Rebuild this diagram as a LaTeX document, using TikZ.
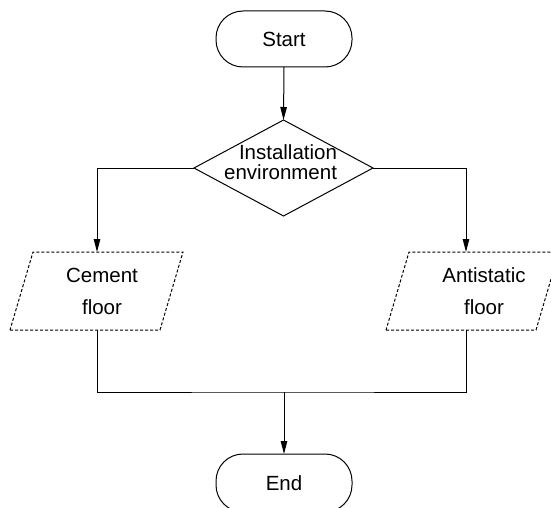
\documentclass[tikz,border=0pt]{standalone}
\usepackage{fontspec}
\setmainfont{Liberation Sans}
\usetikzlibrary{shapes.geometric,arrows.meta,calc}
\begin{document}
\begin{tikzpicture}[x=1pt,y=1pt,
  line width=1pt,
  every node/.style={inner sep=0pt, outer sep=0pt},
  txt/.style={font=\fontsize{20.5}{32}\selectfont, align=center},
  dectxt/.style={font=\fontsize{20.5}{20}\selectfont, align=right},
  term/.style={draw, rounded corners=27pt, minimum width=136pt, minimum height=56pt, font=\fontsize{20.5}{24}\selectfont},
  decision/.style={draw, diamond, minimum width=179pt, minimum height=96pt},
  io/.style={draw, dash pattern=on 3pt off 2pt},
  arr/.style={-{Triangle[length=13pt,width=6.5pt]}}
]
\useasboundingbox (0,0) rectangle (551,-508);
\clip (0,0) rectangle (551,-508);

% terminals
\node[term] (start) at (284,-39) {Start};
\node[term, minimum height=58pt] (end) at (284,-483) {End};

% decision
\node[decision] (dec) at (283.5,-168) {};
\node[dectxt] (dectext) at (280.6,-162.6) {Installation\\environment};

% parallelogram corners
\coordinate (c1) at (10,-330);
\coordinate (c2) at (160,-330);
\coordinate (c3) at (183,-252);
\coordinate (c4) at (33,-252);
\coordinate (a1) at (386,-330);
\coordinate (a2) at (536,-330);
\coordinate (a3) at (559,-252);
\coordinate (a4) at (409,-252);
\draw[io] (c1) -- (c2) -- (c3) -- (c4) -- cycle;
\draw[io] (a1) -- (a2) -- (a3) -- (a4) -- cycle;
\node[txt] (cem) at (102,-291.5) {Cement\\floor};
\node[txt] (ant) at (484,-291.5) {Antistatic\\floor};

\coordinate (cemtop) at (97,-252);
\coordinate (cembot) at (97,-330);
\coordinate (anttop) at (466,-252);
\coordinate (antbot) at (466,-330);
\coordinate (join) at (284,-392);

% connectors
\draw[arr] (start.south) -- (dec.north);
\draw[arr] (dec.west) -| (cemtop);
\draw[arr] (dec.east) -| (anttop);
\draw (cembot) |- (join) -| (antbot);
\draw[arr] (join) -- (end.north);
\end{tikzpicture}
\end{document}
